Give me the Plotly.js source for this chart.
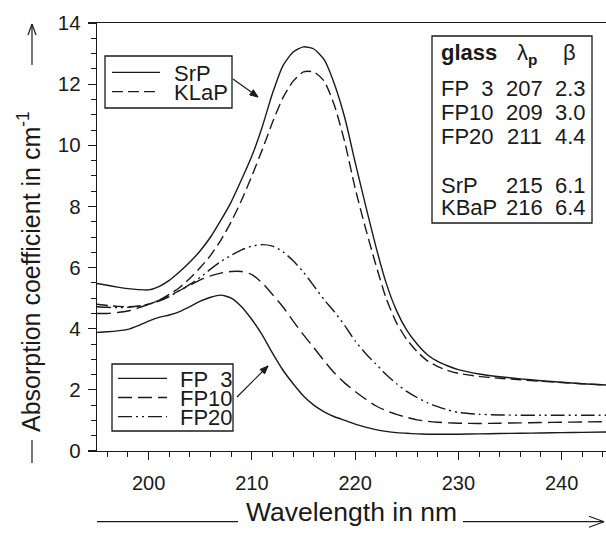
<!DOCTYPE html>
<html><head><meta charset="utf-8">
<script src="https://cdn.plot.ly/plotly-3.0.1.min.js"></script>
<style>html,body{margin:0;padding:0;background:#fff}#chart{width:606px;height:533px}</style>
</head><body><div id="chart"></div>
<script>
// ---- data ----
const wavelength = [195,196,197,198,199,200,201,202,203,204,205,206,207,208,209,210,211,212,213,214,215,216,217,218,219,220,221,222,223,224,225,226,227,228,229,230,232,234,236,238,240,242,244.3];
const srp  = [5.48,5.42,5.36,5.31,5.28,5.27,5.38,5.58,5.86,6.18,6.55,7.0,7.55,8.15,8.88,9.65,10.6,11.7,12.6,13.05,13.22,13.15,12.8,12.0,10.9,9.45,8.05,6.7,5.5,4.6,3.95,3.5,3.15,2.93,2.78,2.66,2.52,2.43,2.36,2.3,2.25,2.2,2.16];
const klap = [4.8,4.76,4.73,4.72,4.74,4.8,4.93,5.12,5.35,5.65,6.0,6.4,6.9,7.5,8.2,9.0,9.85,10.75,11.55,12.1,12.4,12.4,12.1,11.3,10.1,8.6,7.3,6.1,5.0,4.2,3.65,3.25,2.95,2.76,2.63,2.54,2.44,2.38,2.33,2.28,2.24,2.2,2.16];
const fp3  = [3.88,3.9,3.93,3.98,4.1,4.25,4.37,4.45,4.56,4.72,4.9,5.03,5.1,5.0,4.72,4.3,3.8,3.2,2.65,2.2,1.8,1.5,1.28,1.12,1.0,0.88,0.78,0.7,0.64,0.6,0.58,0.56,0.55,0.55,0.55,0.55,0.56,0.57,0.58,0.59,0.6,0.61,0.62];
const fp10 = [4.5,4.5,4.53,4.58,4.68,4.8,4.93,5.08,5.25,5.42,5.6,5.73,5.82,5.87,5.87,5.77,5.5,5.12,4.72,4.25,3.8,3.38,2.95,2.55,2.22,1.95,1.7,1.48,1.32,1.2,1.1,1.02,0.97,0.94,0.92,0.91,0.9,0.91,0.92,0.93,0.94,0.95,0.96];
const fp20 = [4.72,4.7,4.69,4.7,4.74,4.8,4.9,5.05,5.25,5.45,5.68,5.95,6.2,6.4,6.58,6.7,6.75,6.7,6.52,6.22,5.85,5.4,4.95,4.55,4.1,3.6,3.2,2.85,2.5,2.2,1.95,1.75,1.58,1.45,1.34,1.26,1.2,1.18,1.17,1.17,1.17,1.17,1.17];

const legendTop = ["SrP","KLaP"];
const legendBottom = ["FP\u00a0\u00a03","FP10","FP20"];

const tableGlass  = ["FP\u00a0\u00a03","FP10","FP20","SrP","KBaP"];
const tableLambda = ["207","209","211","215","216"];
const tableBeta   = ["2.3","3.0","4.4","6.1","6.4"];

const xTickVals = [200,210,220,230,240];
const xTickText = ["200","210","220","230","240"];
const yTickVals = [0,2,4,6,8,10,12,14];
const yTickText = ["0","2","4","6","8","10","12","14"];

const xTitle = "Wavelength in nm";
const yTitle = "Absorption coefficient in cm<sup>-1</sup>";

// ---- styling ----
const FONT = 'Liberation Sans, Arial, Helvetica, sans-serif';
const INK = '#1a1a1a';
const DASH = {
  solid: 'solid',
  klap: '11px,5px',
  fp10: '14px,6px',
  fp20: '14px,4px,2px,4px,2px,4px'
};
const M = {l:97, r:0, t:23, b:82};
const FW = 606, FH = 533;
const PW = FW - M.l - M.r, PH = FH - M.t - M.b;
const fx = px => (px - M.l) / PW;
const fy = py => (FH - M.b - py) / PH;

const series = [
  {name:'SrP',  y:srp,  dash:DASH.solid},
  {name:'KLaP', y:klap, dash:DASH.klap},
  {name:'FP 3', y:fp3,  dash:DASH.solid},
  {name:'FP10', y:fp10, dash:DASH.fp10},
  {name:'FP20', y:fp20, dash:DASH.fp20}
];
const traces = series.map(s => ({
  x: wavelength, y: s.y, name: s.name, type:'scatter', mode:'lines',
  line:{color:INK, width:1.4, dash:s.dash, shape:'spline', smoothing:0.6},
  showlegend:false, hoverinfo:'skip'
}));

const shapes = [];
const annotations = [];
const lineShape = (x0,y0,x1,y1,dash,w) => shapes.push({type:'line', xref:'paper', yref:'paper',
  x0:fx(x0), y0:fy(y0), x1:fx(x1), y1:fy(y1), line:{color:INK, width:w||1.2, dash:dash||'solid'}});
const rectShape = (x0,y0,x1,y1) => shapes.push({type:'rect', xref:'paper', yref:'paper',
  x0:fx(x0), y0:fy(y1), x1:fx(x1), y1:fy(y0), line:{color:INK, width:1.3}, fillcolor:'rgba(0,0,0,0)'});
const arrowShape = (x0,y0,x1,y1,len,half) => {
  lineShape(x0,y0,x1,y1,'solid',1.2);
  const dx = x1-x0, dy = y1-y0, d = Math.hypot(dx,dy);
  const ux = dx/d, uy = dy/d, bx = x1-len*ux, by = y1-len*uy;
  const p1 = [bx - half*uy, by + half*ux], p2 = [bx + half*uy, by - half*ux];
  shapes.push({type:'path', xref:'paper', yref:'paper',
    path:`M${fx(x1)},${fy(y1)} L${fx(p1[0])},${fy(p1[1])} L${fx(p2[0])},${fy(p2[1])} Z`,
    fillcolor:INK, line:{color:INK, width:1}});
};
const txt = (text, x, y, anchor, size) => annotations.push({text, xref:'paper', yref:'paper',
  x:fx(x), y:fy(y), xanchor:anchor, yanchor:'middle', showarrow:false,
  font:{family:FONT, size:size||21, color:INK}});

// legend box (SrP / KLaP)
rectShape(105,56,232,108);
const topDash = [DASH.solid, DASH.klap];
legendTop.forEach((name,i) => {
  const yy = 72.3 + i*19.4;
  lineShape(112,yy,160,yy,topDash[i],1.3);
  txt(name, 172, yy+1, 'left', 22);
});
// legend box (FP)
rectShape(112,364,233,431);
const botDash = [DASH.solid, DASH.fp10, DASH.fp20];
legendBottom.forEach((name,i) => {
  const yy = 378.3 + i*19.2;
  lineShape(118,yy,167,yy,botDash[i],1.3);
  txt(name, 178, yy+1, 'left', 22);
});
// pointer arrows
arrowShape(233,79,258,97,8,3.2);
arrowShape(237,397,268,366,8,3.2);

// table
rectShape(432,36,592,223);
txt('<b>glass</b>', 439, 53, 'left', 22);
txt('λ<sub><b>p</b></sub>', 527, 54, 'center', 22);
txt('β', 569, 53, 'center', 22);
const rowY = [88.3, 112.5, 136.7, 185, 208];
tableGlass.forEach((g,i) => {
  txt(g, 439, rowY[i], 'left', 22);
  txt(tableLambda[i], 524, rowY[i], 'center', 22);
  txt(tableBeta[i], 570, rowY[i], 'center', 22);
});

// axis-title arrows
const xArrowY = 521.7;
lineShape(97,xArrowY,238,xArrowY,'solid',1.2);
lineShape(463,xArrowY,604,xArrowY,'solid',1.2);
lineShape(604,xArrowY,589,xArrowY-5.5,'solid',1.2);
lineShape(604,xArrowY,589,xArrowY+5.5,'solid',1.2);
const yArrowX = 32;
lineShape(yArrowX,440,yArrowX,463,'solid',1.2);
lineShape(yArrowX,65,yArrowX,24,'solid',1.2);
lineShape(yArrowX,24,yArrowX-4,35,'solid',1.2);
lineShape(yArrowX,24,yArrowX+4,35,'solid',1.2);

// y title (placed off-centre like the reference)
annotations.push({text:yTitle, textangle:-90, xref:'paper', yref:'paper',
  x:fx(29), y:fy(272), xanchor:'center', yanchor:'middle', showarrow:false,
  font:{family:FONT, size:25, color:INK}});

const layout = {
  width:FW, height:FH,
  margin:{l:M.l, r:M.r, t:M.t, b:M.b, autoexpand:false},
  paper_bgcolor:'#ffffff', plot_bgcolor:'#ffffff',
  font:{family:FONT, color:INK},
  xaxis:{
    range:[195,244.3], tickvals:xTickVals, ticktext:xTickText,
    ticks:'outside', ticklen:8, tickwidth:1.2, tickcolor:INK,
    minor:{dtick:2, tick0:196, ticks:'outside', ticklen:5, tickwidth:1, tickcolor:INK, showgrid:false},
    showline:true, mirror:true, linecolor:INK, linewidth:1.3,
    showgrid:false, zeroline:false,
    tickfont:{family:FONT, size:20, color:INK}, ticklabelstandoff:6,
    title:{text:xTitle, font:{family:FONT, size:26.5, color:INK}, standoff:9}
  },
  yaxis:{
    range:[0,14], tickvals:yTickVals, ticktext:yTickText,
    ticks:'outside', ticklen:8, tickwidth:1.2, tickcolor:INK,
    minor:{dtick:0.5, tick0:0, ticks:'outside', ticklen:5, tickwidth:1, tickcolor:INK, showgrid:false},
    showline:true, mirror:false, linecolor:INK, linewidth:1.3,
    showgrid:false, zeroline:false,
    tickfont:{family:FONT, size:20.5, color:INK}, ticklabelstandoff:3
  },
  shapes, annotations
};
Plotly.newPlot('chart', traces, layout, {staticPlot:true, displayModeBar:false});
</script></body></html>
